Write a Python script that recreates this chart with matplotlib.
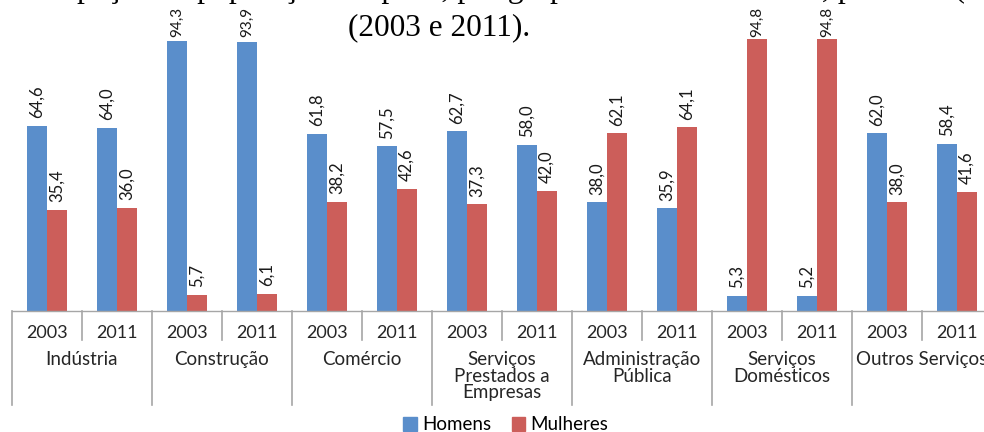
import matplotlib
matplotlib.use('Agg')
import matplotlib.pyplot as plt
import matplotlib.transforms as mtransforms
from matplotlib.patches import Patch
import numpy as np

# Participação por sexo em cada grupamento de atividade (%)
grupamentos = ['Indústria', 'Construção', 'Comércio',
               'Serviços\nPrestados a\nEmpresas', 'Administração\nPública',
               'Serviços\nDomésticos', 'Outros Serviços']
anos = ['2003', '2011']
homens = [64.6, 64.0, 94.3, 93.9, 61.8, 57.5, 62.7, 58.0, 38.0, 35.9, 5.3, 5.2, 62.0, 58.4]
mulheres = [35.4, 36.0, 5.7, 6.1, 38.2, 42.6, 37.3, 42.0, 62.1, 64.1, 94.8, 94.8, 38.0, 41.6]

cor_homens = '#5a8ecb'
cor_mulheres = '#cc5e5a'
cor_linha = '#a6a6a6'
fonte = 'Lato'

W, H = 984, 432
fig = plt.figure(figsize=(W / 100, H / 100), dpi=100)
fig.patch.set_facecolor('white')

# eixo: base em y=311px, cada posição ocupa 70px a partir de x=12px
base_px = 311
px_por_ponto = 2.864
ax = fig.add_axes([12 / W, (H - base_px) / H, 980 / W, base_px / H])
ax.set_xlim(-0.5, 13.5)
ax.set_ylim(0, base_px / px_por_ponto)
ax.axis('off')

x = np.arange(len(homens))
larg = 0.28
b1 = ax.bar(x - larg / 2, homens, larg, color=cor_homens, label='Homens')
b2 = ax.bar(x + larg / 2, mulheres, larg, color=cor_mulheres, label='Mulheres')

# rótulos acima das barras; os mais altos ficam presos ao topo da área
topo = mtransforms.blended_transform_factory(ax.transData, fig.transFigure)
for barras, vals in ((b1, homens), (b2, mulheres)):
    for rect, v in zip(barras, vals):
        txt = f'{v:.1f}'.replace('.', ',')
        xc = rect.get_x() + rect.get_width() / 2
        estilo = dict(rotation=90, ha='center', family=fonte, color='#1a1a1a')
        if v > 90:
            ax.text(xc, 1 - 37 / H, txt, transform=topo, va='bottom',
                    fontsize=11, clip_on=False, **estilo)
        else:
            ax.annotate(txt, (xc, v), xytext=(0, 5.5), textcoords='offset points',
                        va='bottom', fontsize=12, annotation_clip=False, **estilo)

# eixo de categorias em dois níveis
tr = ax.get_xaxis_transform()
def py(px):
    return -(px - base_px) / base_px

ax.plot([-0.5, 13.5], [0, 0], transform=tr, color=cor_linha, lw=1, clip_on=False)
for i in range(15):
    xs = i - 0.5
    y0 = py(405) if i % 2 == 0 else py(340)
    ax.plot([xs, xs], [0, y0], transform=tr, color=cor_linha, lw=1.2, clip_on=False)

for i in range(len(homens)):
    ax.text(i, py(333), anos[i % 2], transform=tr, ha='center', va='center',
            fontsize=13, family=fonte, color='#262626', clip_on=False)

for g, nome in enumerate(grupamentos):
    ax.text(2 * g + 0.5, py(351), nome, transform=tr, ha='center', va='top',
            fontsize=13.5, family=fonte, color='#262626', linespacing=0.98,
            clip_on=False)

fig.legend(handles=[Patch(color=cor_homens, label='Homens'),
                    Patch(color=cor_mulheres, label='Mulheres')],
           loc='center', bbox_to_anchor=(506 / W, 1 - 425 / H), ncol=2,
           frameon=False, handlelength=0.7, handleheight=0.7,
           handletextpad=0.3, columnspacing=1.1,
           prop={'family': fonte, 'size': 13.5})

# legenda textual do gráfico, com a primeira linha cortada na borda
fig.text(-6 / W, 1 + 3 / H,
         'Participação da população ocupada, por grupamento de atividade, por sexo (%)',
         ha='left', va='baseline', family='Liberation Serif', fontsize=22.9)
fig.text(439 / W, 1 - 28 / H, '(2003 e 2011).', ha='center', va='center',
         family='Liberation Serif', fontsize=22.5)

fig.savefig('out.png', dpi=100)
